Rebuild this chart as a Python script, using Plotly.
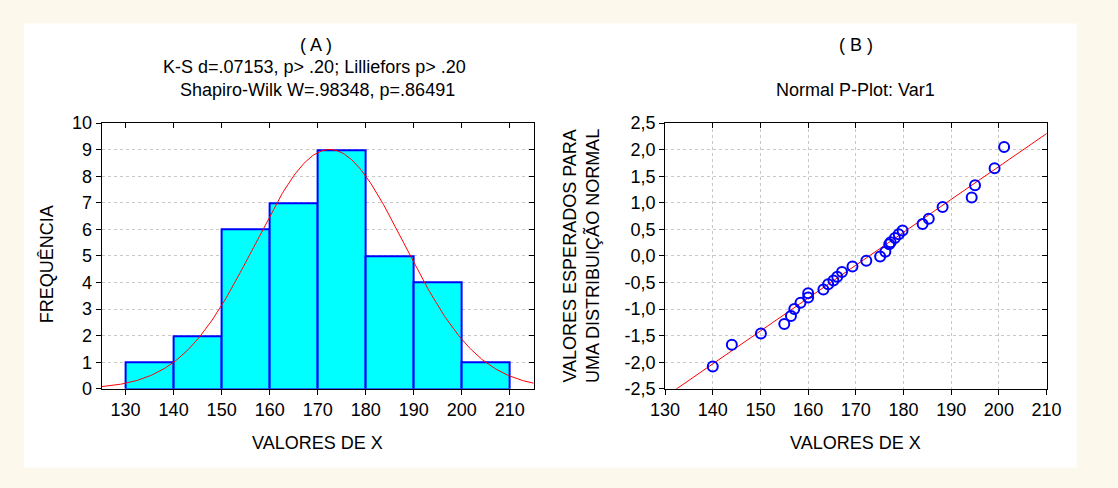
import numpy as np
import plotly.graph_objects as go

W, H = 1118, 488

# ---------------- data: (A) histogram ----------------
bin_left = [130, 140, 150, 160, 170, 180, 190, 200]
bin_width = 10
freq = [1, 2, 6, 7, 9, 5, 4, 1]
hist_xticks = [130, 140, 150, 160, 170, 180, 190, 200, 210]
hist_yticks = [0, 1, 2, 3, 4, 5, 6, 7, 8, 9, 10]
fit_mean = 172.5      # fitted normal curve parameters
fit_sd = 15.5
n_obs = 35

# ---------------- data: (B) normal probability plot ----------------
pp_x = [140.0, 144.0, 150.1, 155.0, 156.4, 157.1, 158.4, 160.0, 160.0, 163.2,
        164.2, 165.3, 166.1, 167.1, 169.3, 172.2, 175.1, 176.2, 177.0, 177.3,
        178.2, 179.0, 179.8, 184.0, 185.3, 188.2, 194.3, 195.0, 199.1, 201.1]
pp_z = [-2.08, -1.67, -1.46, -1.28, -1.13, -1.00, -0.88, -0.78, -0.70, -0.63,
        -0.53, -0.46, -0.39, -0.30, -0.20, -0.09, -0.01, 0.08, 0.22, 0.26,
        0.34, 0.41, 0.48, 0.60, 0.70, 0.92, 1.10, 1.33, 1.65, 2.05]
line_mean = 172.8
line_sd = 16.15
pp_xticks = [130, 140, 150, 160, 170, 180, 190, 200, 210]
pp_yticks = [-2.5, -2.0, -1.5, -1.0, -0.5, 0.0, 0.5, 1.0, 1.5, 2.0, 2.5]
pp_yticktext = ["-2,5", "-2,0", "-1,5", "-1,0", "-0,5", "0,0", "0,5", "1,0", "1,5", "2,0", "2,5"]

FONT = "Liberation Sans, Arial, sans-serif"
FS = 18


def dx(px):
    return px / W


def dy(py):
    return 1 - py / H


# plot frames in pixels
L_X0, L_X1 = 89, 533
R_X0, R_X1 = 668, 1060
Y0, Y1 = 118, 395

fig = go.Figure()

# histogram bars
centers = [b + bin_width / 2 for b in bin_left]
fig.add_trace(go.Bar(
    x=centers, y=freq, width=[bin_width] * len(freq),
    marker=dict(color="#00FFFF", line=dict(color="#0000FF", width=2)),
    xaxis="x", yaxis="y", showlegend=False, hoverinfo="skip"))

# fitted normal curve
cx = np.linspace(125, 215, 300)
cy = n_obs * bin_width / (fit_sd * np.sqrt(2 * np.pi)) * np.exp(-0.5 * ((cx - fit_mean) / fit_sd) ** 2)
fig.add_trace(go.Scatter(x=cx, y=cy, mode="lines", line=dict(color="#FF0000", width=1),
                         xaxis="x", yaxis="y", showlegend=False, hoverinfo="skip"))

# P-plot reference line
lx = np.array([125.0, 215.0])
lz = (lx - line_mean) / line_sd
fig.add_trace(go.Scatter(x=lx, y=lz, mode="lines", line=dict(color="#FF0000", width=1),
                         xaxis="x2", yaxis="y2", showlegend=False, hoverinfo="skip"))
# P-plot points
fig.add_trace(go.Scatter(x=pp_x, y=pp_z, mode="markers",
                         marker=dict(symbol="circle-open", size=10, color="#0000FF",
                                     line=dict(color="#0000FF", width=2)),
                         xaxis="x2", yaxis="y2", showlegend=False, hoverinfo="skip"))

# dummy traces for mirrored inside ticks
for xa, ya in [("x3", "y"), ("x", "y3"), ("x4", "y2"), ("x2", "y4")]:
    fig.add_trace(go.Scatter(x=[170], y=[0], mode="markers", marker=dict(opacity=0),
                             xaxis=xa, yaxis=ya, showlegend=False, hoverinfo="skip"))

axis_common = dict(showline=True, linecolor="#000000", linewidth=1, mirror=True,
                   ticks="outside", ticklen=5, tickcolor="#000000", tickwidth=1,
                   zeroline=False, tickfont=dict(family=FONT, size=FS, color="#000000"),
                   gridcolor="#c8c8c8", griddash="dot", gridwidth=1)

fig.update_layout(
    width=W, height=H, autosize=False,
    margin=dict(l=0, r=0, t=0, b=0, pad=0),
    paper_bgcolor="#fdf8ec", plot_bgcolor="#FFFFFF",
    bargap=0, showlegend=False,
    font=dict(family=FONT, size=FS, color="#000000"),
    xaxis=dict(domain=[dx(L_X0), dx(L_X1)], range=[125, 215], tickvals=hist_xticks,
               showgrid=False, anchor="y", **axis_common),
    yaxis=dict(domain=[dy(Y1), dy(Y0)], range=[0, 10], tickvals=hist_yticks,
               showgrid=True, anchor="x", **axis_common),
    xaxis2=dict(domain=[dx(R_X0), dx(R_X1)], range=[130, 210], tickvals=pp_xticks,
                showgrid=True, anchor="y2", **axis_common),
    yaxis2=dict(domain=[dy(Y1), dy(Y0)], range=[-2.5, 2.5], tickvals=pp_yticks,
                ticktext=pp_yticktext, showgrid=True, anchor="x2", **axis_common),
    xaxis3=dict(overlaying="x", side="top", anchor="y", range=[125, 215], tickvals=hist_xticks,
                ticks="inside", ticklen=5, tickcolor="#000000", showticklabels=False,
                showgrid=False, zeroline=False, showline=False),
    yaxis3=dict(overlaying="y", side="right", anchor="x", range=[0, 10], tickvals=hist_yticks,
                ticks="inside", ticklen=5, tickcolor="#000000", showticklabels=False,
                showgrid=False, zeroline=False, showline=False),
    xaxis4=dict(overlaying="x2", side="top", anchor="y2", range=[130, 210], tickvals=pp_xticks,
                ticks="inside", ticklen=5, tickcolor="#000000", showticklabels=False,
                showgrid=False, zeroline=False, showline=False),
    yaxis4=dict(overlaying="y2", side="right", anchor="x2", range=[-2.5, 2.5], tickvals=pp_yticks,
                ticks="inside", ticklen=5, tickcolor="#000000", showticklabels=False,
                showgrid=False, zeroline=False, showline=False),
)

# white panel
fig.add_shape(type="rect", xref="paper", yref="paper", x0=dx(9), x1=dx(1091), y0=dy(477), y1=dy(14),
              fillcolor="#FFFFFF", line=dict(width=0), layer="below")


def ann(text, px, py, angle=0, size=FS):
    fig.add_annotation(text=text, xref="paper", yref="paper", x=dx(px), y=dy(py),
                       xanchor="center", yanchor="middle", showarrow=False, textangle=angle,
                       font=dict(family=FONT, size=size, color="#000000"))


ann("( A )", 309, 37)
ann("K-S d=.07153, p> .20; Lilliefors p> .20", 308, 59)
ann("Shapiro-Wilk W=.98348, p=.86491", 311, 83)
ann("( B )", 864, 37)
ann("Normal P-Plot: Var1", 864, 83)
ann("VALORES DE X", 311, 452)
ann("VALORES DE X", 864, 452)
ann("FREQUÊNCIA", 33, 265, angle=-90)
ann("VALORES ESPERADOS PARA<br>UMA DISTRIBUIÇÃO NORMAL", 582, 256, angle=-90)

fig.write_html("out.html")
